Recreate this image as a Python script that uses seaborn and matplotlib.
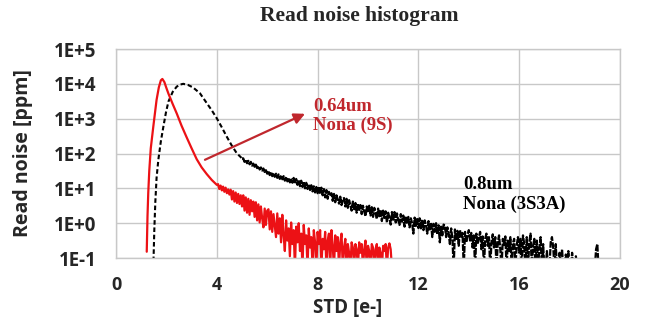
import numpy as np
import pandas as pd
import matplotlib
matplotlib.use("Agg")
import matplotlib.pyplot as plt
import seaborn as sns

# ---------------- data (y stored as log10(ppm)) ----------------
# 0.64um Nona (9S) - smooth rising/falling part
red_std_main = [1.22, 1.25, 1.28, 1.32, 1.38, 1.48, 1.61, 1.70, 1.78, 1.84, 1.92, 2.00,
                2.08, 2.25, 2.41, 2.60, 2.80, 3.00, 3.20, 3.40, 3.60, 3.80, 4.00]
red_log_main = [-0.82, 0.20, 0.87, 1.50, 2.15, 2.77, 3.54, 3.90, 4.10, 4.14, 4.05, 3.88,
                3.72, 3.42, 3.15, 2.80, 2.47, 2.15, 1.84, 1.60, 1.41, 1.24, 1.10]
# noisy tail, histogram bins of 0.05 e- starting at 4.05
red_tail_start = 4.05
red_tail_bin = 0.05
red_log_tail = [
    1.12, 0.98, 1.08, 0.94, 1.05, 0.90, 1.02, 0.86, 0.97, 0.82,
    0.96, 0.68, 0.92, 0.62, 0.88, 0.58, 0.84, 0.55, 0.80, 0.48,
    0.80, 0.36, 0.74, 0.30, 0.70, 0.24, 0.66, 0.34, 0.62, 0.18,
    0.60, 0.08, 0.54, 0.02, 0.48, 0.14, -0.12, 0.42, -0.05, 0.36,
    0.40, -0.18, 0.34, -0.25, 0.26, -0.08, -0.40, 0.28, -0.30, 0.14,
    -0.55, 0.24, -0.35, -0.80, 0.08, -0.50, -0.15, -0.95, 0.02, -0.60,
    -0.20, -1.30, -0.10, -0.55, 0.00, -0.80, -0.30, -1.30, -0.05, -0.60,
    -0.35, -1.30, -0.15, -0.70, -0.40, -1.30, -0.20, -0.55, -1.30, -0.25,
    -0.60, -0.20, -1.30, -0.45, -0.75, -0.25, -1.30, -0.50, -0.30, -1.30,
    -0.20, -0.65, -1.30, -0.35, -0.80, -0.40, -1.30, -0.55, -0.30, -1.30,
    -0.70, -0.45, -1.30, -0.60, -0.85, -1.30, -0.55, -0.70, -1.30, -0.60,
    -0.75, -1.30, -0.55, -0.85, -0.60, -1.30, -0.75, -0.50, -1.30, -0.65,
    -0.80, -1.30, -0.60, -0.70, -1.30, -0.75, -0.60, -1.30, -0.70, -0.85,
    -1.30, -0.65, -0.80, -0.60, -1.30, -0.70, -0.58, -0.75, -1.30, -1.30,
]

# 0.8um Nona (3S3A) - smooth part
blk_std_main = [1.48, 1.52, 1.56, 1.61, 1.68, 1.78, 1.88, 1.98, 2.08, 2.25, 2.41, 2.55,
                2.67, 2.85, 3.05, 3.33, 3.55, 3.80, 4.00, 4.20, 4.39, 4.60, 4.79, 5.00]
blk_log_main = [-1.30, -0.20, 0.60, 1.30, 1.82, 2.35, 2.77, 3.17, 3.49, 3.77, 3.92, 3.98,
                4.00, 3.97, 3.90, 3.73, 3.50, 3.24, 3.01, 2.75, 2.49, 2.22, 2.01, 1.86]
blk_tail_start = 5.05
blk_tail_bin = 0.05
blk_log_tail = [
    1.86, 1.76, 1.82, 1.72, 1.79, 1.69, 1.76, 1.65, 1.71, 1.62,
    1.68, 1.58, 1.64, 1.54, 1.60, 1.51, 1.57, 1.47, 1.52, 1.42,
    1.50, 1.38, 1.47, 1.35, 1.44, 1.33, 1.42, 1.30, 1.40, 1.27,
    1.37, 1.26, 1.35, 1.22, 1.33, 1.20, 1.30, 1.17, 1.28, 1.16,
    1.30, 1.13, 1.27, 1.10, 1.24, 1.06, 1.22, 1.04, 1.19, 1.00,
    1.16, 0.98, 1.12, 0.95, 1.09, 0.91, 1.06, 0.88, 1.04, 0.86,
    1.05, 0.84, 1.02, 0.80, 0.98, 0.74, 0.95, 0.70, 0.90, 0.78,
    0.86, 0.64, 0.84, 0.60, 0.80, 0.68, 0.56, 0.76, 0.52, 0.70,
    0.72, 0.48, 0.70, 0.44, 0.66, 0.52, 0.36, 0.62, 0.40, 0.58,
    0.30, 0.56, 0.38, 0.52, 0.26, 0.50, 0.34, 0.20, 0.48, 0.30,
    0.50, 0.22, 0.46, 0.18, 0.44, 0.28, 0.12, 0.42, 0.20, 0.38,
    0.06, 0.36, 0.15, 0.34, 0.02, 0.30, 0.16, -0.04, 0.32, 0.10,
    0.32, 0.02, 0.28, 0.08, -0.05, 0.26, 0.04, 0.22, -0.10, 0.20,
    -0.02, 0.18, -0.12, 0.14, 0.00, -0.30, 0.16, -0.08, 0.12, -0.14,
    0.14, -0.15, 0.10, -0.20, 0.08, -0.05, -0.30, 0.06, -0.22, 0.02,
    -0.40, -0.02, -0.25, 0.00, -0.32, -0.06, -0.55, -0.10, -0.35, -0.04,
    -0.08, -0.40, -0.12, -0.30, -0.60, -0.15, -0.45, -1.30, -0.18, -0.50,
    -0.22, -0.65, -0.20, -0.42, -0.28, -1.30, -0.25, -0.55, -0.35, -0.20,
    -0.50, -0.28, -0.70, -0.35, -1.30, -0.30, -0.60, -0.40, -0.25, -0.75,
    -0.38, -1.30, -0.45, -0.30, -0.65, -0.40, -1.30, -0.55, -0.32, -0.70,
    -0.40, -1.30, -0.55, -0.35, -0.75, -1.30, -0.45, -0.62, -0.38, -1.30,
    -0.50, -0.80, -0.40, -1.30, -0.58, -0.45, -1.30, -0.65, -0.40, -0.85,
    -0.45, -1.30, -0.35, -0.60, -1.30, -0.40, -1.30, -0.55, -0.30, -1.30,
    -0.65, -0.45, -1.30, -0.50, -1.30, -0.70, -0.40, -1.30, -0.60, -1.30,
    -1.30, -0.80, -1.30, -1.30, -0.55, -0.40, -0.70, -1.30, -0.60, -1.30,
    -1.30, -0.85, -1.30, -0.75, -1.30, -1.30, -0.90, -1.30, -0.80, -1.30,
    -1.30, -0.85, -1.30, -1.30, -0.95, -1.30, -1.30, -1.30, -1.30, -1.30,
    -1.30, -1.30, -1.30, -1.30, -1.30, -1.30, -1.30, -1.30, -1.30, -1.30,
    -0.75, -0.60, -1.30, -1.30,
]

x_ticks = [0, 4, 8, 12, 16, 20]
y_ticks = [1e-1, 1e0, 1e1, 1e2, 1e3, 1e4, 1e5]
y_tick_labels = ["1E-1", "1E+0", "1E+1", "1E+2", "1E+3", "1E+4", "1E+5"]

title = "Read noise histogram"
x_label = "STD [e-]"
y_label = "Read noise [ppm]"
red_label = "0.64um\nNona (9S)"
blk_label = "0.8um\nNona (3S3A)"

# ---------------- build tables ----------------
red_std = np.concatenate([red_std_main,
                          red_tail_start + red_tail_bin * np.arange(len(red_log_tail))])
red_ppm = 10.0 ** np.concatenate([red_log_main, red_log_tail])
df_red = pd.DataFrame({"std": red_std, "ppm": red_ppm})

df_blk_main = pd.DataFrame({"std": blk_std_main, "ppm": 10.0 ** np.array(blk_log_main)})
blk_tail_std = np.concatenate([[blk_std_main[-1]],
                               blk_tail_start + blk_tail_bin * np.arange(len(blk_log_tail))])
blk_tail_ppm = 10.0 ** np.concatenate([[blk_log_main[-1]], blk_log_tail])
df_blk_tail = pd.DataFrame({"std": blk_tail_std, "ppm": blk_tail_ppm})

# ---------------- plot ----------------
sns.set_style("white")
sans = ["Open Sans", "DejaVu Sans"]
plt.rcParams["font.family"] = sans

RED = "#ec1115"
RED_TXT = "#c0272d"
GRID = "#c8c8c8"
serif = ["Liberation Serif", "DejaVu Serif"]

fig = plt.figure(figsize=(6.46, 3.2), dpi=100)
ax = fig.add_axes([116 / 646, 1 - 258 / 320, 504 / 646, 209 / 320])

sns.lineplot(data=df_blk_main, x="std", y="ppm", ax=ax, color="black", estimator=None,
             sort=False, linewidth=1.5, linestyle=(0, (2.2, 1.3)))
sns.lineplot(data=df_blk_tail, x="std", y="ppm", ax=ax, color="black", estimator=None,
             sort=False, linewidth=1.6, linestyle=(0, (3.0, 0.6)))
sns.lineplot(data=df_red, x="std", y="ppm", ax=ax, color=RED, estimator=None,
             sort=False, linewidth=1.6)

ax.set_yscale("log")
ax.set_xlim(0, 20)
ax.set_ylim(1e-1, 1e5)
ax.set_xticks(x_ticks)
ax.set_yticks(y_ticks)
ax.set_yticklabels(y_tick_labels)
ax.yaxis.set_minor_locator(matplotlib.ticker.NullLocator())
ax.grid(True, color=GRID, linewidth=1.0)
ax.set_axisbelow(True)
for s in ax.spines.values():
    s.set_color(GRID)
    s.set_linewidth(1.0)
ax.tick_params(axis="x", length=0, labelsize=13, pad=13)
ax.tick_params(axis="y", length=0, labelsize=13.5, pad=14)
for lab in ax.get_xticklabels() + ax.get_yticklabels():
    lab.set_fontweight("bold")
    lab.set_family(sans)

ax.set_xlabel(x_label, fontsize=13.5, fontweight="bold", family=sans)
ax.set_ylabel(y_label, fontsize=14, fontweight="bold", family=sans)
ax.xaxis.set_label_coords(0.46, -0.19)
ax.yaxis.set_label_coords(-0.165, 0.5)

ax.text(0.482, 1.134, title, transform=ax.transAxes, ha="center", va="baseline",
        fontsize=15.5, fontweight="bold", family=serif)

ax.text(0.391, 0.765, red_label, transform=ax.transAxes, ha="left", va="top",
        fontsize=13.5, fontweight="bold", family=serif, color=RED_TXT, linespacing=1.15)
ax.text(0.688, 0.39, blk_label, transform=ax.transAxes, ha="left", va="top",
        fontsize=13.5, fontweight="bold", family=serif, color="black", linespacing=1.15)

arrow_tail = (3.53, 66)
arrow_head = (7.5, 1380)
ax.annotate("", xy=arrow_head, xytext=arrow_tail,
            arrowprops=dict(arrowstyle="-|>", color=RED_TXT, lw=1.6, mutation_scale=16,
                            shrinkA=0, shrinkB=0))

fig.savefig("out.png", dpi=100)
